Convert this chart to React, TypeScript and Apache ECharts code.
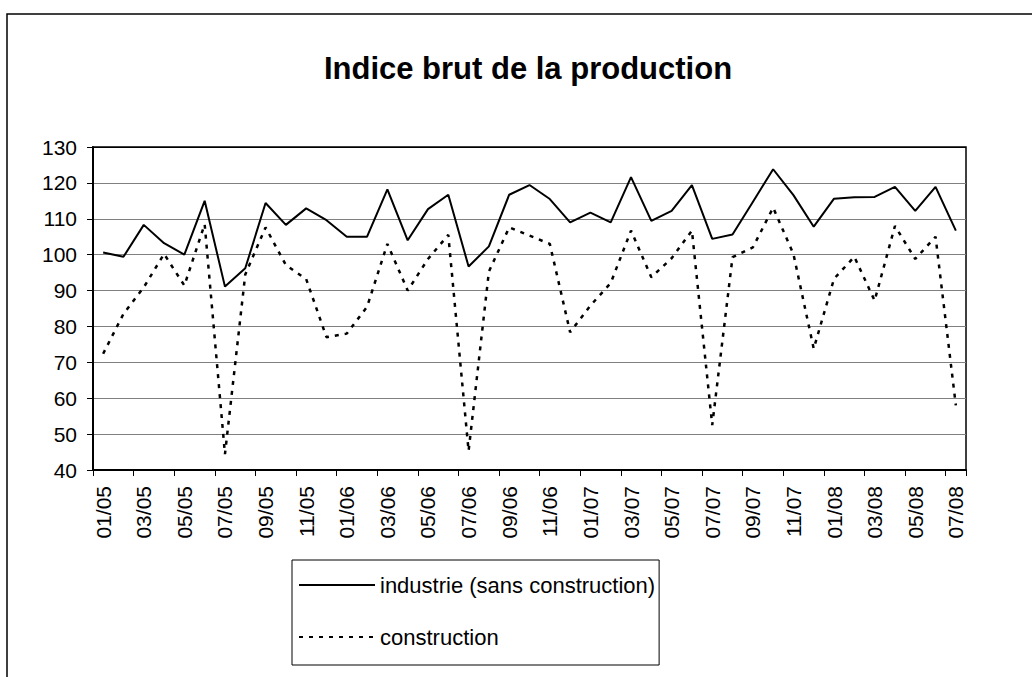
import React, { useEffect, useRef } from "react";
import * as echarts from "echarts";

const categories = [
  "01/05","02/05","03/05","04/05","05/05","06/05","07/05","08/05","09/05","10/05","11/05","12/05",
  "01/06","02/06","03/06","04/06","05/06","06/06","07/06","08/06","09/06","10/06","11/06","12/06",
  "01/07","02/07","03/07","04/07","05/07","06/07","07/07","08/07","09/07","10/07","11/07","12/07",
  "01/08","02/08","03/08","04/08","05/08","06/08","07/08",
];

const industrie = [
  100.6, 99.4, 108.3, 103.2, 100, 115, 91.1, 96.2, 114.4, 108.3,
  112.9, 109.6, 105, 105, 118.2, 104, 112.7, 116.7, 96.7, 102.3,
  116.7, 119.4, 115.5, 109, 111.7, 109, 121.6, 109.4, 112.2, 119.4,
  104.4, 105.6, 114.7, 123.8, 116.6, 107.8, 115.6, 116, 116.1, 118.9,
  112.2, 118.9, 106.7,
];

const construction = [
  72.4, 83.5, 90.9, 100.2, 91.4, 108.5, 44.4, 94.5, 107.6, 97.1,
  93.2, 77, 78, 85.5, 103, 90, 98.8, 105.5, 45.3, 95.3,
  107.6, 105.3, 103, 78.4, 85.8, 92.1, 106.7, 93.7, 99, 106.7,
  52.5, 99.3, 102, 113.1, 100.2, 73.8, 93.3, 99.4, 87.2, 108,
  98.8, 105, 58,
];

const seriesNames = ["industrie (sans construction)", "construction"];
const titleText = "Indice brut de la production";
const yMin = 40;
const yMax = 130;
const yStep = 10;

const FONT = "'Liberation Sans', Arial, sans-serif";

export default function App() {
  const ref = useRef<HTMLDivElement>(null);
  useEffect(() => {
    if (!ref.current) return;
    const chart = echarts.init(ref.current, null, { renderer: "svg" });
    const splitColors: string[] = [];
    for (let v = yMin; v <= yMax; v += yStep) splitColors.push(v === yMax ? "#000000" : "#808080");
    chart.setOption({
      animation: false,
      backgroundColor: "#ffffff",
      title: {
        text: titleText,
        left: 528,
        top: 53,
        padding: 0,
        textAlign: "center",
        textStyle: { fontFamily: FONT, fontSize: 31, fontWeight: "bold", color: "#000", lineHeight: 31 },
      },
      graphic: [
        {
          type: "rect",
          shape: { x: 7, y: 14, width: 1100, height: 1000 },
          style: { fill: "none", stroke: "#000", lineWidth: 1.5 },
          silent: true,
        },
      ],
      legend: {
        orient: "vertical",
        left: 292,
        top: 560,
        padding: [14, 4, 17, 6],
        itemWidth: 76,
        itemHeight: 14,
        itemGap: 30,
        borderColor: "#000",
        borderWidth: 1,
        itemStyle: { opacity: 0 },
        textStyle: { fontFamily: FONT, fontSize: 22, color: "#000", lineHeight: 22 },
        data: seriesNames,
      },
      grid: {
        left: 93,
        top: 147,
        width: 873,
        height: 323,
        show: true,
        borderColor: "#000",
        borderWidth: 1.5,
        backgroundColor: "transparent",
      },
      xAxis: {
        type: "category",
        data: categories,
        boundaryGap: true,
        axisLine: { show: true, lineStyle: { color: "#000", width: 2 } },
        axisTick: { show: true, interval: 1, length: 6, lineStyle: { color: "#000", width: 1 } },
        axisLabel: {
          interval: 1,
          rotate: 90,
          margin: 16,
          fontFamily: FONT,
          fontSize: 21,
          color: "#000",
        },
        splitLine: { show: false },
      },
      yAxis: {
        type: "value",
        min: yMin,
        max: yMax,
        interval: yStep,
        axisLine: { show: true, lineStyle: { color: "#000", width: 2 } },
        axisTick: { show: true, length: 6, lineStyle: { color: "#000", width: 1 } },
        axisLabel: { margin: 16, fontFamily: FONT, fontSize: 21, color: "#000" },
        splitLine: { show: true, lineStyle: { color: splitColors, width: 1.2 } },
      },
      series: [
        {
          name: seriesNames[0],
          type: "line",
          data: industrie,
          symbol: "none",
          showSymbol: false,
          lineStyle: { color: "#000", width: 2, type: "solid" },
          itemStyle: { color: "#000" },
        },
        {
          name: seriesNames[1],
          type: "line",
          data: construction,
          symbol: "none",
          showSymbol: false,
          lineStyle: { color: "#000", width: 2.5, type: [4, 6] },
          itemStyle: { color: "#000" },
        },
      ],
    });
    return () => chart.dispose();
  }, []);
  return (
    <div
      ref={ref}
      style={{ position: "fixed", left: 0, top: 0, width: 1032, height: 677, background: "#fff" }}
    />
  );
}
